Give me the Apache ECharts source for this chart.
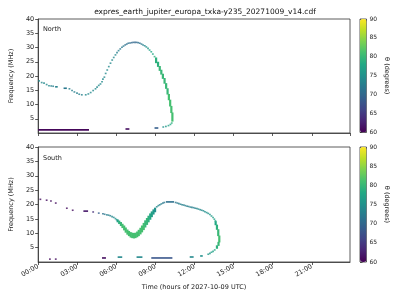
<!DOCTYPE html>
<html>
<head>
<meta charset="utf-8">
<script src="https://cdn.jsdelivr.net/npm/echarts@6/dist/echarts.min.js"></script>
<style>
html,body{margin:0;padding:0;background:#fff;}
#chart{width:400px;height:300px;}
</style>
</head>
<body>
<div id="chart"></div>
<script>
// [time (h), frequency (MHz), theta (deg)]
var northPoints = [
	[0.07,18.3,74],[0.27,17.7,74],[0.45,17.5,74],[0.65,17.0,74],[0.83,16.6,74],[1.0,16.5,73],[1.15,16.4,73],
	[2.4,15.5,73],[2.6,14.9,73],[2.78,14.4,73],[2.98,14.0,73],[3.15,13.6,73],[3.35,13.4,73],[3.65,13.4,74],
	[3.85,13.7,74],[4.03,14.2,74],[4.22,14.9,74],[4.4,15.5,74],[4.52,16.1,74],[4.65,16.7,74],[4.78,17.2,74],
	[4.9,18.0,74],[4.97,18.9,74],[5.08,19.6,74],[5.18,20.9,74],[5.3,22.1,74],[5.42,23.3,74],[5.55,24.5,74],
	[5.68,25.6,74],[5.8,26.5,74],[5.93,27.4,74],[6.05,28.2,73],[6.17,28.9,73],[6.3,29.5,72],[6.43,30.1,72],
	[6.55,30.5,72],[6.68,30.9,71],[6.8,31.2,71],[6.92,31.5,71],[7.05,31.6,71],[7.18,31.7,70],[7.3,31.8,70],
	[7.43,31.8,70],[7.55,31.8,70],[7.67,31.7,71],[7.8,31.5,71],[7.93,31.2,72],[8.05,30.9,73],[8.18,30.6,74],
	[8.3,30.2,75],[8.43,29.7,76],[8.55,29.1,77],[8.68,28.5,78],[8.8,27.7,78],[8.93,26.8,79],
	[10.25,3.5,79],[10.15,3.0,78],[10.0,2.6,77],[9.8,2.3,76],[9.6,2.1,75]
];
// [start (h), end (h), frequency (MHz), theta (deg)]
var northDashes = [
	[1.3,1.5,16.2,73],[1.95,2.2,15.7,72],
	[0,3.9,1.1,60.5],[6.7,7.0,1.4,61],[8.93,9.22,1.75,69]
];
// [time (h), freq low, freq high, theta (deg)]
var northBands = [
	[9.05,24.5,26.5,79],[9.2,23.2,25,79],[9.33,21.8,23.5,80],[9.45,20.5,22.2,80],[9.57,19,20.8,80],
	[9.7,17.3,19.3,80],[9.82,15.5,17.5,80],[9.93,13.5,15.7,80],[10.03,11.5,13.7,81],[10.13,9.3,11.7,81],
	[10.22,7,9.5,81],[10.3,4.0,7.2,81]
];

var southPoints = [
	[0.17,21.8,61],[0.65,21.5,61],[0.98,21.2,61],[1.35,20.5,61],[2.2,18.7,61],[2.65,18.0,61],[4.22,17.4,64],
	[4.65,17.0,69],[4.97,16.8,71],[5.1,16.6,72],[5.27,16.4,73],[5.4,16.3,73],[5.53,16.1,73],[5.67,15.8,74],
	[5.8,15.5,74],[5.93,15.1,75],[6.02,14.7,76],
	[9.1,19.2,74],[9.22,19.6,74],[9.33,19.9,73],[9.45,20.2,73],[9.57,20.5,72],[9.68,20.7,72],
	[10.55,20.7,72],[10.68,20.5,72],[10.8,20.3,73],[10.93,20.1,73],[11.05,19.9,73],[11.18,19.8,73],
	[11.3,19.6,73],[11.43,19.4,73],[11.55,19.3,73],[11.68,19.1,73],[11.8,19.0,73],[11.93,18.9,73],
	[12.05,18.7,73],[12.18,18.6,74],[12.3,18.4,74],[12.43,18.2,74],[12.55,18.0,74],[12.68,17.8,74],
	[12.8,17.5,75],[12.93,17.2,75],[13.05,16.9,75],[13.18,16.5,76],[13.3,16.0,76],[13.42,15.5,77],
	[13.52,14.9,77],[13.6,14.3,78],
	[13.55,4.2,78],[13.42,3.7,77],[13.3,3.4,77],[13.18,3.0,76],[13.05,2.7,76],
	[0.9,1.0,61],[1.35,1.0,61]
];
var southDashes = [
	[3.47,3.83,17.7,62],[9.8,10.43,20.9,71],
	[4.9,5.2,1.4,61],[6.1,6.45,1.7,74],[7.55,8.0,1.7,74],[8.68,10.3,1.4,68],
	[11.63,11.93,1.74,74],[12.43,12.63,2.1,75]
];
var southBands = [
	[6.1,13.8,14.8,77],[6.22,13.2,14.4,79],[6.35,12.5,13.9,80],[6.47,11.8,13.3,81],[6.6,11.0,12.7,81],
	[6.72,10.2,12.0,81],[6.85,9.5,11.3,81],[6.97,9.0,10.8,81],[7.1,8.5,10.4,81],[7.22,8.3,10.2,81],
	[7.35,8.2,10.1,81],[7.47,8.3,10.2,81],[7.6,8.6,10.6,81],[7.72,9.0,11.2,81],[7.85,9.6,11.9,81],
	[7.97,10.3,12.7,81],[8.1,11.1,13.6,81],[8.22,12.0,14.5,80],[8.35,12.9,15.3,80],[8.47,13.8,16.1,79],
	[8.6,14.7,16.9,78],[8.72,15.6,17.6,77],[8.85,16.5,18.3,76],[8.97,17.3,18.9,75],
	[13.62,12.8,14.2,78],[13.72,11.2,13.0,79],[13.82,9.0,11.4,80],[13.9,6.8,9.2,81],[13.84,5.6,7.0,80],
	[13.72,4.6,5.8,79]
];

var hourTicks = ['00:00','03:00','06:00','09:00','12:00','15:00','18:00','21:00'];
var freqTicks = [5,10,15,20,25,30,35,40];
var thetaTicks = [60,65,70,75,80,85,90];

var viridis = ['#440154','#482475','#414487','#355f8d','#2a788e','#21918c','#22a884','#44bf70','#7ad151','#bddf26','#fde725'];
var font = 'DejaVu Sans';
var axisCol = '#333';

var myChart = echarts.init(document.getElementById('chart'));

function dashItem(params, api) {
	var a = api.coord([api.value(0), api.value(2)]);
	var b = api.coord([api.value(1), api.value(2)]);
	return {type:'rect', shape:{x:a[0], y:a[1]-0.8, width:Math.max(b[0]-a[0],1.5), height:1.6},
		style:{fill:api.visual('color')}};
}
function bandItem(params, api) {
	var lo = api.coord([api.value(0), api.value(1)]);
	var hi = api.coord([api.value(0), api.value(2)]);
	return {type:'rect', shape:{x:lo[0]-1.1, y:hi[1], width:2.2, height:lo[1]-hi[1]},
		style:{fill:api.visual('color')}};
}

function xAxisFor(idx, showLabels) {
	return {
		type:'value', gridIndex:idx, min:0, max:23.93, interval:3,
		axisLine:{show:true, onZero:false, lineStyle:{color:axisCol, width:0.8}},
		axisTick:{show:true, length:3, lineStyle:{color:axisCol, width:0.8}},
		splitLine:{show:false},
		axisLabel:{show:showLabels, showMaxLabel:false, rotate:30, fontSize:6.5, fontFamily:font, color:'#222', margin:4,
			formatter:function(v){ return hourTicks[Math.round(v/3)] || ''; }},
		name: showLabels ? 'Time (hours of 2027-10-09 UTC)' : '',
		nameLocation:'middle', nameGap:22,
		nameTextStyle:{fontSize:6.5, fontFamily:font, color:'#222'}
	};
}
function yAxisFor(idx) {
	return {
		type:'value', gridIndex:idx, min:0, max:40, interval:5,
		axisLine:{show:true, lineStyle:{color:axisCol, width:0.8}},
		axisTick:{show:true, length:3, lineStyle:{color:axisCol, width:0.8}},
		splitLine:{show:false},
		axisLabel:{showMinLabel:false, fontSize:6.5, fontFamily:font, color:'#222', margin:4,
			formatter:function(v){ return freqTicks.indexOf(v) >= 0 ? String(v) : ''; }},
		name:'Frequency (MHz)', nameLocation:'middle', nameGap:17,
		nameTextStyle:{fontSize:6.5, fontFamily:font, color:'#222'}
	};
}
function cbAxis(idx) {
	return {
		type:'value', gridIndex:idx, position:'right', min:60, max:90, interval:5,
		axisLine:{show:false}, splitLine:{show:false},
		axisTick:{show:true, length:2.5, lineStyle:{color:axisCol, width:0.8}},
		axisLabel:{fontSize:6, fontFamily:font, color:'#222', margin:3,
			formatter:function(v){ return thetaTicks.indexOf(v) >= 0 ? String(v) : ''; }},
		name:'θ (degrees)', nameLocation:'middle', nameGap:17, nameRotate:-90,
		nameTextStyle:{fontSize:6.5, fontFamily:font, color:'#222'}
	};
}

var option = {
	animation:false,
	backgroundColor:'#fff',
	title:{
		text:'expres_earth_jupiter_europa_txka-y235_20271009_v14.cdf',
		left:200, top:3, textAlign:'center',
		textStyle:{fontSize:7.5, fontWeight:'normal', fontFamily:font, color:'#111'}
	},
	graphic:[
		{type:'text', left:43, top:26, style:{text:'North', fontSize:6.5, fontFamily:font, fill:'#222'}},
		{type:'text', left:43, top:155, style:{text:'South', fontSize:6.5, fontFamily:font, fill:'#222'}}
	],
	grid:[
		{left:31, top:19, width:319, height:114, show:true, borderColor:axisCol, borderWidth:0.8, backgroundColor:'transparent'},
		{left:31, top:147, width:319, height:115, show:true, borderColor:axisCol, borderWidth:0.8, backgroundColor:'transparent'},
		{left:360, top:19, width:6.5, height:113.5, show:true, borderColor:axisCol, borderWidth:0.8, backgroundColor:'transparent'},
		{left:360, top:147, width:6.5, height:115, show:true, borderColor:axisCol, borderWidth:0.8, backgroundColor:'transparent'}
	],
	xAxis:[
		xAxisFor(0, false), xAxisFor(1, true),
		{type:'value', gridIndex:2, show:false}, {type:'value', gridIndex:3, show:false}
	],
	yAxis:[yAxisFor(0), yAxisFor(1), cbAxis(2), cbAxis(3)],
	visualMap:[
		{type:'continuous', min:60, max:90, dimension:2, seriesIndex:[0], left:360, top:19,
			itemWidth:6.5, itemHeight:113.5, padding:0, calculable:false, text:null, showLabel:false,
			inRange:{color:viridis}},
		{type:'continuous', min:60, max:90, dimension:2, seriesIndex:[3], left:360, top:147,
			itemWidth:6.5, itemHeight:115, padding:0, calculable:false, text:null, showLabel:false,
			inRange:{color:viridis}},
		{type:'continuous', min:60, max:90, dimension:3, seriesIndex:[1,2,4,5], show:false,
			inRange:{color:viridis}}
	],
	series:[
		{type:'scatter', xAxisIndex:0, yAxisIndex:0, symbol:'rect', symbolSize:[1.8,1.6], data:northPoints},
		{type:'custom', xAxisIndex:0, yAxisIndex:0, renderItem:dashItem, encode:{x:[0,1], y:2}, data:northDashes},
		{type:'custom', xAxisIndex:0, yAxisIndex:0, renderItem:bandItem, encode:{x:0, y:[1,2]}, data:northBands},
		{type:'scatter', xAxisIndex:1, yAxisIndex:1, symbol:'rect', symbolSize:[1.8,1.6], data:southPoints},
		{type:'custom', xAxisIndex:1, yAxisIndex:1, renderItem:dashItem, encode:{x:[0,1], y:2}, data:southDashes},
		{type:'custom', xAxisIndex:1, yAxisIndex:1, renderItem:bandItem, encode:{x:0, y:[1,2]}, data:southBands}
	]
};
myChart.setOption(option);
</script>
</body>
</html>
